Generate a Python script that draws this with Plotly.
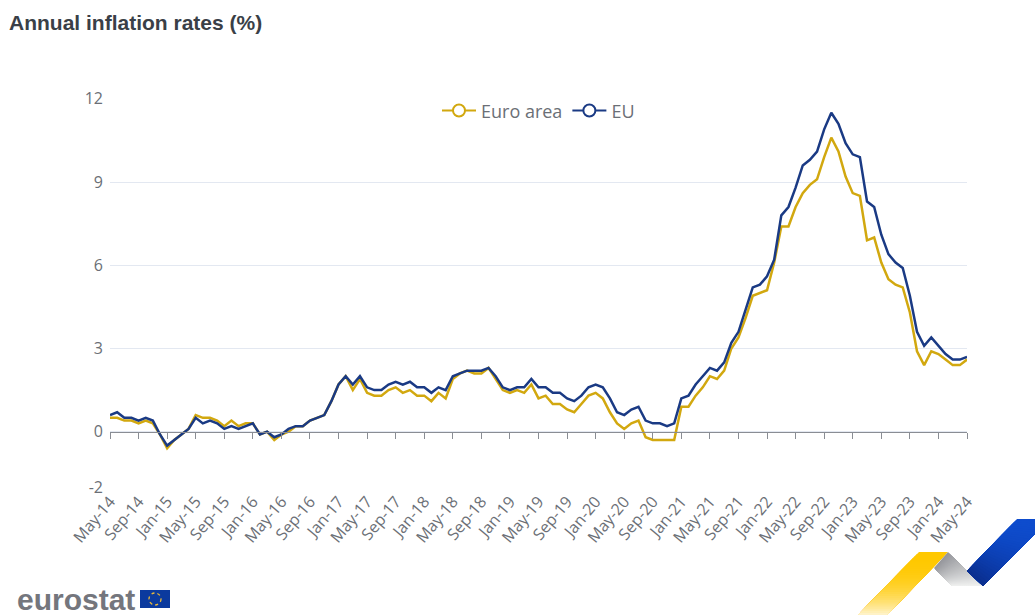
import plotly.graph_objects as go

MONTH_NAMES = ["Jan", "Feb", "Mar", "Apr", "May", "Jun", "Jul", "Aug", "Sep", "Oct", "Nov", "Dec"]
months = [f"{MONTH_NAMES[(4 + i) % 12]}-{14 + (4 + i) // 12}" for i in range(121)]
tick_labels = months[::4]
y_ticks = [-2, 0, 3, 6, 9, 12]
y_tick_labels = ["-2", "0", "3", "6", "9", "12"]

euro_area = [
    0.5, 0.5, 0.4, 0.4, 0.3, 0.4, 0.3, -0.1, -0.6, -0.3, -0.1, 0.1,
    0.6, 0.5, 0.5, 0.4, 0.2, 0.4, 0.2, 0.3, 0.3, -0.1, 0.0, -0.3,
    -0.1, 0.0, 0.2, 0.2, 0.4, 0.5, 0.6, 1.1, 1.7, 2.0, 1.5, 1.9,
    1.4, 1.3, 1.3, 1.5, 1.6, 1.4, 1.5, 1.3, 1.3, 1.1, 1.4, 1.2,
    1.9, 2.1, 2.2, 2.1, 2.1, 2.3, 1.9, 1.5, 1.4, 1.5, 1.4, 1.7,
    1.2, 1.3, 1.0, 1.0, 0.8, 0.7, 1.0, 1.3, 1.4, 1.2, 0.7, 0.3,
    0.1, 0.3, 0.4, -0.2, -0.3, -0.3, -0.3, -0.3, 0.9, 0.9, 1.3, 1.6,
    2.0, 1.9, 2.2, 3.0, 3.4, 4.1, 4.9, 5.0, 5.1, 6.1, 7.4, 7.4,
    8.1, 8.6, 8.9, 9.1, 9.9, 10.6, 10.1, 9.2, 8.6, 8.5, 6.9, 7.0,
    6.1, 5.5, 5.3, 5.2, 4.3, 2.9, 2.4, 2.9, 2.8, 2.6, 2.4, 2.4, 2.6,
]
eu = [
    0.6, 0.7, 0.5, 0.5, 0.4, 0.5, 0.4, -0.1, -0.5, -0.3, -0.1, 0.1,
    0.5, 0.3, 0.4, 0.3, 0.1, 0.2, 0.1, 0.2, 0.3, -0.1, 0.0, -0.2,
    -0.1, 0.1, 0.2, 0.2, 0.4, 0.5, 0.6, 1.1, 1.7, 2.0, 1.7, 2.0,
    1.6, 1.5, 1.5, 1.7, 1.8, 1.7, 1.8, 1.6, 1.6, 1.4, 1.6, 1.5,
    2.0, 2.1, 2.2, 2.2, 2.2, 2.3, 2.0, 1.6, 1.5, 1.6, 1.6, 1.9,
    1.6, 1.6, 1.4, 1.4, 1.2, 1.1, 1.3, 1.6, 1.7, 1.6, 1.2, 0.7,
    0.6, 0.8, 0.9, 0.4, 0.3, 0.3, 0.2, 0.3, 1.2, 1.3, 1.7, 2.0,
    2.3, 2.2, 2.5, 3.2, 3.6, 4.4, 5.2, 5.3, 5.6, 6.2, 7.8, 8.1,
    8.8, 9.6, 9.8, 10.1, 10.9, 11.5, 11.1, 10.4, 10.0, 9.9, 8.3, 8.1,
    7.1, 6.4, 6.1, 5.9, 4.9, 3.6, 3.1, 3.4, 3.1, 2.8, 2.6, 2.6, 2.7,
]

W, H = 1035, 615
LEFT, RIGHT, TOP, BOTTOM = 110, 967, 98, 488
YELLOW = "#D2A80F"
BLUE = "#1A3A84"
GREY_TEXT = "#6B6F76"


def px(x):
    return (x - LEFT) / (RIGHT - LEFT)


def py(y):
    return (BOTTOM - y) / (BOTTOM - TOP)


def poly(points, color):
    path = "M " + " L ".join(f"{px(a):.5f},{py(b):.5f}" for a, b in points) + " Z"
    return dict(type="path", xref="paper", yref="paper", path=path, fillcolor=color,
                line=dict(width=0), layer="above")


def lerp(p, q, t):
    return (p[0] + (q[0] - p[0]) * t, p[1] + (q[1] - p[1]) * t)


def mix(c1, c2, t):
    return "rgb(" + ",".join(str(round(a + (b - a) * t)) for a, b in zip(c1, c2)) + ")"


def ribbon(a0, a1, b0, b1, c0, c1, gamma=1.0, n=30):
    # each band runs to the far end, so later bands cover the earlier ones with no seams
    out = []
    for i in range(n):
        t0 = i / n
        out.append(poly([lerp(a0, a1, t0), lerp(b0, b1, t0), b1, a1], mix(c0, c1, t0 ** gamma)))
    return out


fig = go.Figure()

for name, values, color in [("Euro area", euro_area, YELLOW), ("EU", eu, BLUE)]:
    fig.add_trace(go.Scatter(x=months, y=values, mode="lines", name=name, showlegend=False,
                             line=dict(color=color, width=2.5), hoverinfo="x+y+name"))

for name, color in [("Euro area", YELLOW), ("EU", BLUE)]:
    fig.add_trace(go.Scatter(x=[months[0]], y=[None], xaxis="x2", mode="lines+markers", name=name,
                             line=dict(color=color, width=2),
                             marker=dict(symbol="circle", size=12, color="white",
                                         line=dict(color=color, width=2))))

shapes = []
# ribbon in the lower right corner
shapes += ribbon((948, 552), (887, 615), (919, 552), (858, 615), (255, 200, 0), (255, 246, 215), gamma=2.5)
shapes += ribbon((934, 568), (952, 586), (948, 552), (982, 586), (150, 151, 156), (242, 243, 242))
shapes += ribbon((1017, 519), (967, 571), (1050, 519), (983, 586), (14, 76, 205), (10, 45, 140), gamma=2)
# flag of the logo
shapes.append(dict(type="rect", xref="paper", yref="paper", x0=px(140), x1=px(170),
                   y0=py(608), y1=py(590), fillcolor="#0B3A9E", line=dict(width=0), layer="above"))
shapes.append(dict(type="circle", xref="paper", yref="paper", x0=px(149), x1=px(161),
                   y0=py(605), y1=py(593), fillcolor="rgba(0,0,0,0)",
                   line=dict(color="#E8B93A", width=1.3, dash="dot"), layer="above"))

fig.update_layout(
    width=W,
    height=H,
    paper_bgcolor="white",
    plot_bgcolor="white",
    margin=dict(l=LEFT, r=W - RIGHT, t=TOP, b=H - BOTTOM, pad=0),
    font=dict(family="Open Sans, sans-serif", color=GREY_TEXT, size=14),
    xaxis=dict(type="category", categoryorder="array", categoryarray=months, range=[0, 120],
               tickmode="array", tickvals=tick_labels, ticktext=tick_labels, tickangle=-50,
               ticks="", showgrid=False, zeroline=False, showline=False,
               tickfont=dict(size=16, color=GREY_TEXT)),
    xaxis2=dict(type="category", categoryorder="array", categoryarray=months, range=[0, 120],
                overlaying="x", anchor="free", position=2.03 / 14.06,
                tickmode="array", tickvals=tick_labels, showticklabels=False,
                ticks="outside", ticklen=6, tickcolor="#8A8D94", tickwidth=1,
                showgrid=False, zeroline=False, showline=True, linecolor="#8A8D94", linewidth=1),
    yaxis=dict(range=[-2.03, 12.03], tickmode="array", tickvals=y_ticks, ticktext=y_tick_labels,
               ticks="", ticklabelstandoff=6,
               showgrid=True, gridcolor="#E3E8F1", gridwidth=1, zeroline=False, showline=False,
               tickfont=dict(size=16, color=GREY_TEXT)),
    legend=dict(orientation="h", x=0.5, y=0.967, xanchor="center", yanchor="middle",
                bgcolor="rgba(0,0,0,0)", font=dict(size=18, color=GREY_TEXT), itemwidth=34),
    shapes=shapes,
    annotations=[
        dict(text="<b>Annual inflation rates (%)</b>", xref="paper", yref="paper", x=px(8), y=py(22),
             xanchor="left", yanchor="middle", showarrow=False, xshift=-1,
             font=dict(family="Liberation Sans, Arial, sans-serif", size=21, color="#3A3F47")),
        dict(text="<b>eurostat</b>", xref="paper", yref="paper", x=px(16), y=py(599),
             xanchor="left", yanchor="middle", showarrow=False, xshift=-1,
             font=dict(family="Liberation Sans, Arial, sans-serif", size=30, color="#74767D")),
    ],
)

fig.write_html("out.html", config={"displayModeBar": False},
               post_script="document.body.style.margin='0';document.documentElement.style.overflow='hidden';")
